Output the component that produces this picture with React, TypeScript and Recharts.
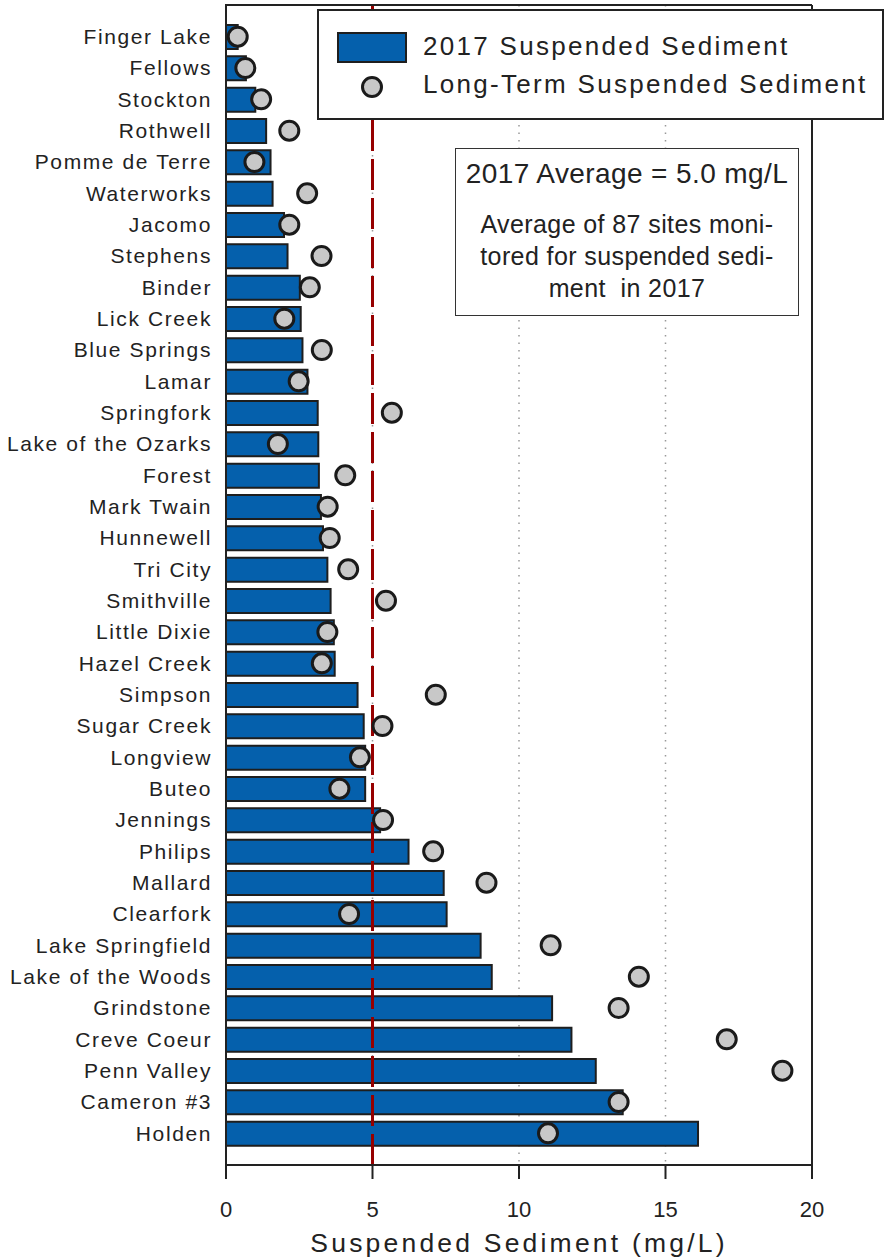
import React from 'react'
import {
  ComposedChart,
  Bar,
  Scatter,
  XAxis,
  YAxis,
  CartesianGrid,
  ReferenceLine,
  Legend,
} from 'recharts'

const sites = [
  'Finger Lake', 'Fellows', 'Stockton', 'Rothwell', 'Pomme de Terre', 'Waterworks',
  'Jacomo', 'Stephens', 'Binder', 'Lick Creek', 'Blue Springs', 'Lamar',
  'Springfork', 'Lake of the Ozarks', 'Forest', 'Mark Twain', 'Hunnewell', 'Tri City',
  'Smithville', 'Little Dixie', 'Hazel Creek', 'Simpson', 'Sugar Creek', 'Longview',
  'Buteo', 'Jennings', 'Philips', 'Mallard', 'Clearfork', 'Lake Springfield',
  'Lake of the Woods', 'Grindstone', 'Creve Coeur', 'Penn Valley', 'Cameron #3', 'Holden',
]

// mg/L, 2017 season
const sediment2017 = [
  0.4, 0.68, 1.0, 1.37, 1.52, 1.59,
  1.98, 2.1, 2.52, 2.55, 2.61, 2.78,
  3.13, 3.15, 3.17, 3.24, 3.31, 3.46,
  3.57, 3.68, 3.71, 4.49, 4.7, 4.75,
  4.75, 5.26, 6.23, 7.43, 7.53, 8.69,
  9.07, 11.13, 11.79, 12.62, 13.54, 16.11,
]

// mg/L, long-term site average
const sedimentLongTerm = [
  0.4, 0.66, 1.2, 2.16, 0.97, 2.77,
  2.16, 3.26, 2.86, 1.99, 3.27, 2.48,
  5.66, 1.77, 4.07, 3.47, 3.54, 4.17,
  5.46, 3.46, 3.27, 7.16, 5.34, 4.57,
  3.87, 5.36, 7.07, 8.89, 4.2, 11.08,
  14.09, 13.4, 17.09, 18.99, 13.4, 10.99,
]

const xTicks = [0, 5, 10, 15, 20]
const averageValue = 5.0
const noteLines = ['Average of 87 sites moni-', 'tored for suspended sedi-', 'ment\u00a0 in 2017']

const data = sites.map((name, i) => ({
  name,
  y2017: sediment2017[i],
  longTerm: sedimentLongTerm[i],
}))

const FONT = '"Liberation Sans", Arial, sans-serif'
const INK = '#222'
const BAR_BLUE = '#0560ac'
const DOT_GREY = '#c8c8c8'

const Dot = (props: any) => {
  const { cx, cy } = props
  if (cx == null || cy == null) return null
  return <circle cx={cx} cy={cy} r={9.5} fill={DOT_GREY} stroke="#1a1a1a" strokeWidth={3} />
}

const LegendBox = () => (
  <div
    style={{
      width: 567,
      height: 111,
      border: `2px solid ${INK}`,
      background: '#fff',
      boxSizing: 'border-box',
      fontFamily: FONT,
      fontSize: 26,
      letterSpacing: 2.3,
      color: INK,
      position: 'relative',
    }}
  >
    <svg width={90} height={100} style={{ position: 'absolute', left: 17, top: 0 }}>
      <rect x={2} y={22} width={68} height={29} fill={BAR_BLUE} stroke="#1e1e1e" strokeWidth={2} />
      <circle cx={36} cy={76} r={9.5} fill={DOT_GREY} stroke="#1a1a1a" strokeWidth={3} />
    </svg>
    <div style={{ position: 'absolute', left: 104, top: 20, lineHeight: '30px' }}>2017 Suspended Sediment</div>
    <div style={{ position: 'absolute', left: 104, top: 58, lineHeight: '30px' }}>Long-Term Suspended Sediment</div>
  </div>
)

export default function App() {
  return (
    <div style={{ position: 'absolute', left: 0, top: 0, width: 890, height: 1260, background: '#fff' }}>
      <ComposedChart
        width={890}
        height={1260}
        data={data}
        layout="vertical"
        margin={{ top: 5, right: 78, bottom: 0, left: 0 }}
      >
        {/* dotted guides at the x ticks */}
        <CartesianGrid
          horizontal={false}
          stroke="#999"
          strokeWidth={1.5}
          strokeDasharray="1.5 6"
        />
        <XAxis
          type="number"
          domain={[0, 20]}
          ticks={xTicks}
          height={95}
          tickSize={14}
          tickMargin={22}
          axisLine={{ stroke: INK, strokeWidth: 2 }}
          tickLine={{ stroke: INK, strokeWidth: 2 }}
          tick={{ fill: INK, fontSize: 22, fontFamily: FONT }}
          label={{
            value: 'Suspended Sediment (mg/L)',
            position: 'insideBottom',
            offset: 8,
            fill: INK,
            fontSize: 26.5,
            fontFamily: FONT,
            style: { letterSpacing: 3.2 },
          }}
        />
        <YAxis
          type="category"
          dataKey="name"
          width={226}
          interval={0}
          padding={{ top: 16, bottom: 16 }}
          tickLine={false}
          tickSize={0}
          tickMargin={14}
          axisLine={{ stroke: INK, strokeWidth: 2 }}
          tick={{ fill: INK, fontSize: 21, fontFamily: FONT, style: { letterSpacing: 1.6 } }}
        />
        {/* right edge of the plot frame */}
        <ReferenceLine x={20} stroke={INK} strokeWidth={2} />
        <ReferenceLine
          x={averageValue}
          stroke="#960000"
          strokeWidth={3}
          strokeDasharray="31 8"
        />
        <Bar
          dataKey="y2017"
          name="2017 Suspended Sediment"
          barSize={24}
          fill={BAR_BLUE}
          stroke="#1e1e1e"
          strokeWidth={2}
          isAnimationActive={false}
        />
        <Scatter
          dataKey="longTerm"
          name="Long-Term Suspended Sediment"
          shape={<Dot />}
          isAnimationActive={false}
        />
        <Legend
          layout="horizontal"
          verticalAlign="middle"
          align="center"
          content={() => <LegendBox />}
          wrapperStyle={{ left: 317, top: 9, width: 567, height: 111 }}
        />
      </ComposedChart>

      {/* top edge of the plot frame */}
      <div style={{ position: 'absolute', left: 225, top: 4, width: 587, height: 2, background: INK }} />

      <div
        style={{
          position: 'absolute',
          left: 455,
          top: 148,
          width: 344,
          height: 168,
          border: '1.5px solid #333',
          boxSizing: 'border-box',
          background: '#fff',
          fontFamily: FONT,
          color: INK,
          textAlign: 'center',
        }}
      >
        <div style={{ position: 'absolute', left: 0, right: 0, top: 8, lineHeight: '34px', fontSize: 28, letterSpacing: 0.4 }}>
          2017 Average = {averageValue.toFixed(1)} mg/L
        </div>
        {noteLines.map((line, i) => (
          <div
            key={line}
            style={{
              position: 'absolute',
              left: 0,
              right: 0,
              top: 59 + i * 32,
              lineHeight: '32px',
              fontSize: 25,
              letterSpacing: 0.4,
            }}
          >
            {line}
          </div>
        ))}
      </div>
    </div>
  )
}
